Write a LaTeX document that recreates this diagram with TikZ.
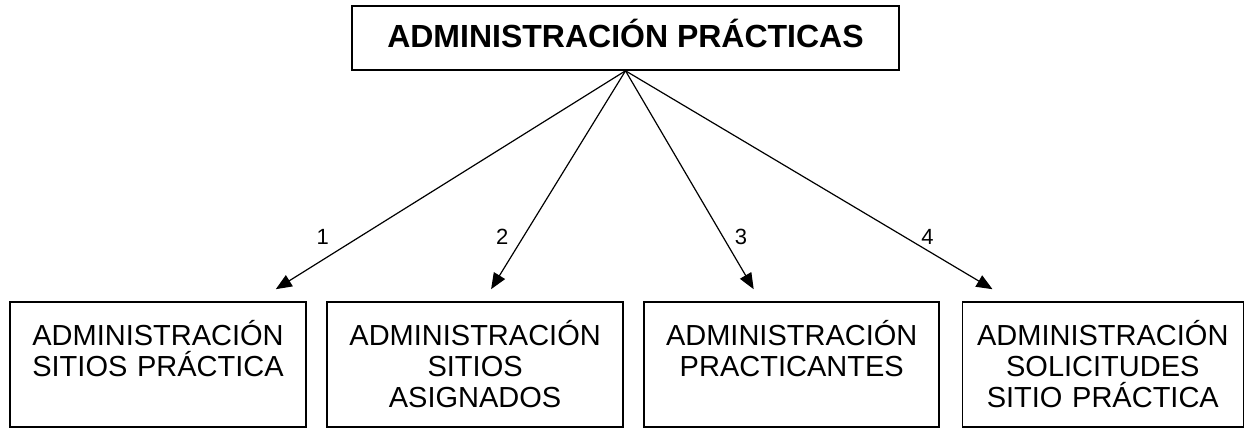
\documentclass[tikz,border=0pt]{standalone}
\usepackage{fontspec}
\setmainfont{Liberation Sans}
\usetikzlibrary{positioning,arrows.meta}
\begin{document}
\begin{tikzpicture}[x=1pt, y=1pt,
  box/.style={draw, line width=1.6pt, inner sep=0pt, align=center,
    text height=44pt, text depth=81pt, font=\fontsize{29}{31}\selectfont},
  arr/.style={-{Triangle[length=16pt,width=13pt]}, line width=1.2pt},
  lab/.style={font=\fontsize{22}{24}\selectfont}]
  \useasboundingbox (0,0) rectangle (1247,430);
  \node[draw, line width=1.6pt, minimum width=547pt, minimum height=64pt,
    text height=23pt, text depth=4pt, font=\fontsize{32}{36}\selectfont\bfseries]
    (top) at (625.5,392) {ADMINISTRACIÓN PRÁCTICAS};
  \node[box, text width=296pt] (b1) at (158,65.5) {ADMINISTRACIÓN\\SITIOS PRÁCTICA};
  \node[box, text width=296pt, right=19.5pt of b1] (b2) {ADMINISTRACIÓN\\SITIOS\\ASIGNADOS};
  \node[box, text width=295pt, right=19.5pt of b2] (b3) {ADMINISTRACIÓN\\PRACTICANTES};
  \node[box, text width=281pt, right=21.5pt of b3] (b4) {ADMINISTRACIÓN\\SOLICITUDES\\SITIO PRÁCTICA};
  \coordinate (t1) at ([xshift=-31pt, yshift=12pt]b1.north east);
  \coordinate (t2) at ([xshift=16pt, yshift=12pt]b2.north);
  \coordinate (t3) at ([xshift=-38pt, yshift=12pt]b3.north);
  \coordinate (t4) at ([xshift=31pt, yshift=12pt]b4.north west);
  \draw[arr] (top.south) -- (t1) node[lab, pos=0.76, xshift=-37pt] (l1) {1};
  \draw[arr] (top.south) -- (t2) node[lab, pos=0.76, xshift=-21pt] (l2) {2};
  \draw[arr] (top.south) -- (t3) node[lab, pos=0.76, xshift=18pt] (l3) {3};
  \draw[arr] (top.south) -- (t4) node[lab, pos=0.76, xshift=23pt] (l4) {4};
\end{tikzpicture}
\end{document}
